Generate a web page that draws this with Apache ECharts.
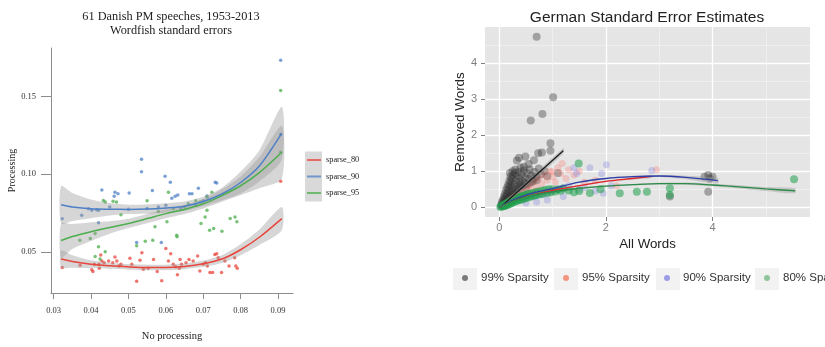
<!DOCTYPE html>
<html><head><meta charset="utf-8">
<script src="https://cdn.jsdelivr.net/npm/echarts@6/dist/echarts.min.js"></script>
<style>html,body{margin:0;padding:0;background:#fff}#c{width:825px;height:347px}</style>
</head><body><div id="c"></div>
<script>
// ===== Left panel: Danish PM speeches =====
const dkXTicks = [0.03, 0.04, 0.05, 0.06, 0.07, 0.08, 0.09];
const dkYTicks = [0.05, 0.10, 0.15];
const dkNames = ['sparse_80', 'sparse_90', 'sparse_95'];

const sparse80Pts = [[0.0323,0.0401],[0.0371,0.0415],[0.0402,0.0386],[0.0405,0.0375],[0.0409,0.0422],[0.0421,0.0422],[0.0422,0.0396],[0.0426,0.0481],[0.0429,0.0443],[0.0435,0.0432],[0.0447,0.0443],[0.0458,0.0432],[0.0464,0.0468],[0.0469,0.0443],[0.0475,0.0411],[0.0480,0.0422],[0.0504,0.0460],[0.0509,0.0422],[0.0522,0.0312],[0.0531,0.0447],[0.0536,0.0496],[0.0540,0.0390],[0.0553,0.0396],[0.0567,0.0453],[0.0577,0.0375],[0.0589,0.0316],[0.0600,0.0523],[0.0607,0.0443],[0.0613,0.0489],[0.0620,0.0422],[0.0626,0.0405],[0.0631,0.0354],[0.0636,0.0396],[0.0638,0.0453],[0.0642,0.0422],[0.0654,0.0432],[0.0662,0.0453],[0.0673,0.0443],[0.0685,0.0475],[0.0691,0.0379],[0.0700,0.0422],[0.0706,0.0432],[0.0711,0.0411],[0.0718,0.0369],[0.0725,0.0369],[0.0731,0.0485],[0.0736,0.0489],[0.0740,0.0464],[0.0749,0.0369],[0.0758,0.0443],[0.0769,0.0411],[0.0784,0.0464],[0.0787,0.0411],[0.0791,0.0396],[0.0907,0.0955]];
const sparse90Pts = [[0.0323,0.0714],[0.0375,0.0736],[0.0393,0.0778],[0.0402,0.0768],[0.0415,0.0772],[0.0420,0.0768],[0.0420,0.0689],[0.0429,0.0899],[0.0450,0.0790],[0.0462,0.0859],[0.0464,0.0885],[0.0472,0.0874],[0.0500,0.0775],[0.0502,0.0880],[0.0522,0.0562],[0.0535,0.1097],[0.0535,0.1016],[0.0550,0.0780],[0.0564,0.0895],[0.0580,0.0790],[0.0588,0.0562],[0.0598,0.0987],[0.0600,0.0800],[0.0612,0.0948],[0.0616,0.0846],[0.0625,0.0859],[0.0632,0.0867],[0.0640,0.0780],[0.0663,0.0874],[0.0670,0.0874],[0.0680,0.0800],[0.0687,0.0910],[0.0700,0.0830],[0.0710,0.0860],[0.0732,0.0948],[0.0736,0.0944],[0.0907,0.1733],[0.0907,0.1256]];
const sparse95Pts = [[0.0370,0.0576],[0.0398,0.0587],[0.0411,0.0619],[0.0411,0.0471],[0.0420,0.0534],[0.0424,0.0455],[0.0433,0.0831],[0.0438,0.0821],[0.0438,0.0502],[0.0459,0.0827],[0.0468,0.0821],[0.0480,0.0740],[0.0522,0.0541],[0.0545,0.0570],[0.0550,0.0830],[0.0565,0.0576],[0.0571,0.0662],[0.0580,0.0760],[0.0603,0.0694],[0.0607,0.0885],[0.0620,0.0780],[0.0629,0.0608],[0.0630,0.0598],[0.0650,0.0790],[0.0660,0.0810],[0.0680,0.0830],[0.0692,0.0821],[0.0694,0.0683],[0.0705,0.0725],[0.0710,0.0853],[0.0710,0.0768],[0.0717,0.0640],[0.0723,0.0885],[0.0728,0.0651],[0.0750,0.0634],[0.0772,0.0715],[0.0785,0.0725],[0.0790,0.0694],[0.0907,0.1538],[0.0907,0.1141]];

const dkCurveX = [0.032,0.035,0.04,0.045,0.05,0.055,0.06,0.065,0.07,0.075,0.08,0.085,0.091];
const sparse80Fit = [0.0456,0.0440,0.0422,0.0412,0.0405,0.0401,0.0401,0.0408,0.0425,0.0455,0.0515,0.0595,0.0715];
const sparse80Se  = [0.0055,0.0040,0.0025,0.0020,0.0018,0.0018,0.0018,0.0018,0.0020,0.0025,0.0035,0.0050,0.0075];
const sparse90Fit = [0.0804,0.0790,0.0778,0.0775,0.0774,0.0776,0.0783,0.0795,0.0825,0.0873,0.0947,0.1053,0.1264];
const sparse90Se  = [0.012,0.009,0.006,0.004,0.003,0.003,0.003,0.003,0.003,0.004,0.007,0.010,0.017];
const sparse95Fit = [0.0574,0.0600,0.0631,0.0658,0.0684,0.0715,0.0747,0.0774,0.0810,0.0863,0.0926,0.1010,0.1141];
const sparse95Se  = [0.011,0.008,0.006,0.004,0.003,0.003,0.003,0.003,0.003,0.004,0.006,0.010,0.017];

// ===== Right panel: German standard errors =====
const deXTicks = [0, 2, 4];
const deYTicks = [0, 1, 2, 3, 4];
const deXMinor = [1, 3, 5];
const deYMinor = [0.5, 1.5, 2.5, 3.5, 4.5];
const deNames = ['99% Sparsity', '95% Sparsity', '90% Sparsity', '80% Sparsity'];

const sp99Pts = [[0.03,0.04],[0.05,0.09],[0.06,0.05],[0.08,0.14],[0.09,0.08],[0.1,0.2],[0.11,0.11],[0.12,0.27],[0.13,0.15],[0.14,0.34],[0.15,0.2],[0.16,0.42],[0.17,0.25],[0.18,0.5],[0.19,0.3],[0.2,0.6],[0.21,0.36],[0.22,0.7],[0.23,0.45],[0.24,0.8],[0.25,0.55],[0.26,0.9],[0.27,0.4],[0.28,0.65],[0.29,0.95],[0.3,0.5],[0.31,0.75],[0.33,0.88],[0.34,0.58],[0.36,0.98],[0.37,0.7],[0.39,0.8],[0.4,0.62],[0.42,0.92],[0.44,0.72],[0.46,1.02],[0.48,0.82],[0.5,0.66],[0.52,0.95],[0.55,0.78],[0.57,1.05],[0.6,0.88],[0.63,0.72],[0.66,0.98],[0.7,0.85],[0.74,1.08],[0.78,0.92],[0.85,1.0],[0.9,0.86],[0.33,1.3],[0.37,1.38],[0.46,1.13],[0.49,1.41],[0.55,1.2],[0.65,1.31],[0.73,1.5],[0.8,1.52],[0.96,1.57],[0.96,1.78],[0.59,2.41],[0.81,2.59],[1.01,3.06],[0.70,4.74],[1.1,0.95],[3.2,0.3],[3.92,0.9],[3.95,0.8],[3.92,0.43],[4.0,0.85],[3.85,0.85],[0.05,0.15],[0.07,0.22],[0.09,0.3],[0.11,0.38],[0.13,0.48],[0.15,0.56],[0.17,0.64],[0.19,0.74],[0.21,0.84],[0.12,0.06],[0.16,0.12],[0.2,0.16],[0.24,0.3],[0.28,0.35],[0.32,0.42],[0.36,0.5],[0.4,0.55],[0.45,0.6],[0.5,0.55],[0.55,0.65],[0.6,0.7],[0.65,0.8],[0.7,0.75],[0.25,1.0],[0.3,1.05],[0.4,1.1],[0.2,0.95]];
const sp95Pts = [[0.1,0.09],[0.15,0.14],[0.2,0.2],[0.25,0.25],[0.3,0.3],[0.35,0.33],[0.4,0.38],[0.45,0.42],[0.5,0.45],[0.55,0.6],[0.6,0.5],[0.65,0.7],[0.7,0.55],[0.75,0.8],[0.8,0.65],[0.85,0.9],[0.9,0.75],[0.95,1.0],[0.99,0.99],[1.0,0.85],[1.05,0.7],[1.1,1.1],[1.15,0.94],[1.18,1.22],[1.25,0.8],[1.3,1.04],[1.4,0.9],[1.5,1.0],[1.6,0.7],[1.8,0.75],[2.2,0.6],[2.95,1.04]];
const sp90Pts = [[0.2,0.15],[0.3,0.2],[0.4,0.25],[0.5,0.28],[0.5,0.12],[0.6,0.3],[0.7,0.32],[0.7,0.15],[0.8,0.35],[0.9,0.4],[0.9,0.2],[1.0,0.45],[1.1,0.5],[1.2,0.55],[1.2,0.3],[1.3,0.6],[1.4,1.1],[1.45,0.94],[1.5,0.5],[1.6,0.55],[1.7,1.1],[1.8,0.45],[1.92,0.94],[1.95,0.39],[2.01,1.18],[2.1,0.6],[2.86,1.02]];
const sp80Pts = [[0.02,0.01],[0.04,0.04],[0.05,0.02],[0.07,0.06],[0.08,0.03],[0.1,0.08],[0.1,0.04],[0.12,0.1],[0.13,0.06],[0.15,0.12],[0.16,0.07],[0.18,0.15],[0.2,0.09],[0.2,0.17],[0.23,0.12],[0.24,0.2],[0.26,0.14],[0.28,0.22],[0.3,0.16],[0.32,0.25],[0.34,0.18],[0.36,0.28],[0.38,0.2],[0.4,0.3],[0.42,0.22],[0.44,0.32],[0.46,0.24],[0.48,0.34],[0.5,0.26],[0.52,0.36],[0.55,0.28],[0.57,0.38],[0.6,0.3],[0.62,0.4],[0.65,0.32],[0.68,0.42],[0.7,0.34],[0.73,0.44],[0.76,0.36],[0.8,0.46],[0.82,0.38],[0.86,0.48],[0.9,0.4],[0.93,0.5],[0.97,0.42],[1.0,0.5],[1.05,0.44],[1.1,0.5],[1.15,0.46],[1.2,0.52],[1.3,0.47],[1.4,0.42],[1.49,1.22],[1.5,0.45],[1.7,0.4],[1.9,0.5],[2.26,0.39],[2.58,0.43],[2.77,0.43],[3.2,0.53],[3.2,0.34],[5.53,0.78]];

const sp99FitX = [0.02, 1.2];
const sp99Fit  = [0.0, 1.57];
const sp99Se   = [0.04, 0.08];
const sp95FitX = [0,0.25,0.5,0.75,1.0,1.5,2.0,2.5,2.87];
const sp95Fit  = [0,0.18,0.3,0.39,0.47,0.6,0.72,0.8,0.86];
const sp95Se   = [0.02,0.02,0.02,0.02,0.02,0.02,0.025,0.03,0.04];
const sp90FitX = [0,0.25,0.5,0.75,1.0,1.5,2.0,2.5,3.0,3.5,4.1];
const sp90Fit  = [0,0.2,0.34,0.44,0.52,0.7,0.8,0.85,0.87,0.83,0.74];
const sp90Se   = [0.02,0.02,0.02,0.02,0.02,0.02,0.02,0.025,0.03,0.05,0.08];
const sp80FitX = [0,0.25,0.5,0.75,1.0,1.5,2.0,2.5,3.0,3.5,4.0,4.5,5.0,5.55];
const sp80Fit  = [0,0.17,0.29,0.37,0.43,0.53,0.59,0.63,0.66,0.66,0.62,0.57,0.51,0.46];
const sp80Se   = [0.02,0.02,0.02,0.02,0.02,0.02,0.02,0.02,0.025,0.03,0.035,0.045,0.055,0.07];

// ===== build =====
const dkColors = ['#e8453c', '#4f80c6', '#4cae4c'];
const deColors = ['#333333', '#f8766d', '#7777dd', '#1e9e4a'];
const deOpacity = [0.38, 0.3, 0.3, 0.55];
const deLineColors = ['#1a1a1a', '#e3262b', '#2f3fa8', '#2a8a48'];
const serif = 'Liberation Serif';
const sans = 'Liberation Sans';

function bandSeries(xs, fit, se, axis) {
  return {
    type: 'custom', xAxisIndex: axis, yAxisIndex: axis, silent: true, z: 3, clip: true,
    data: [[xs[0], fit[0]]],
    renderItem: function (params, api) {
      const upper = xs.map((x, i) => api.coord([x, fit[i] + se[i]]));
      const lower = xs.map((x, i) => api.coord([x, fit[i] - se[i]])).reverse();
      return { type: 'polygon', shape: { points: upper.concat(lower), smooth: 0.25 },
        style: { fill: '#999999', opacity: 0.4 } };
    }
  };
}
function fitSeries(name, xs, fit, color, axis, w) {
  return { name: name, type: 'line', xAxisIndex: axis, yAxisIndex: axis, symbol: 'none', smooth: 0.3, silent: true,
    data: xs.map((x, i) => [x, fit[i]]), lineStyle: { color: color, width: w }, z: 4 };
}

const series = [];
[sparse80Pts, sparse90Pts, sparse95Pts].forEach((pts, i) => {
  series.push({ name: dkNames[i], type: 'scatter', xAxisIndex: 0, yAxisIndex: 0, data: pts, symbolSize: 3.5,
    itemStyle: { color: dkColors[i], opacity: 0.75 }, z: 2 });
});
[[sparse80Fit, sparse80Se], [sparse90Fit, sparse90Se], [sparse95Fit, sparse95Se]].forEach((f) => {
  series.push(bandSeries(dkCurveX, f[0], f[1], 0));
});
[sparse80Fit, sparse90Fit, sparse95Fit].forEach((f, i) => {
  series.push(fitSeries(dkNames[i], dkCurveX, f, dkColors[i], 0, 1.5));
});

[sp99Pts, sp95Pts, sp90Pts, sp80Pts].forEach((pts, i) => {
  series.push({ name: deNames[i], type: 'scatter', xAxisIndex: 1, yAxisIndex: 1, data: pts, symbolSize: (i === 0 || i === 3) ? 8 : 7,
    itemStyle: { color: deColors[i], opacity: deOpacity[i] }, z: 2 });
});
const deFits = [[sp99FitX, sp99Fit, sp99Se], [sp95FitX, sp95Fit, sp95Se], [sp90FitX, sp90Fit, sp90Se], [sp80FitX, sp80Fit, sp80Se]];
deFits.forEach((f) => { series.push(bandSeries(f[0], f[1], f[2], 1)); });
deFits.forEach((f, i) => { series.push(fitSeries(deNames[i], f[0], f[1], deLineColors[i], 1, 1.3)); });

const deLegendLeft = [462, 563, 664, 764];
const deKeyBox = [453, 554, 656, 755];
const deLegendDot = ['#7a7a7a', '#f4957f', '#9c9ce6', '#8fc59a'];
const legends = [{
  data: dkNames, orient: 'vertical', left: 307, top: 155, icon: 'rect', itemWidth: 14, itemHeight: 2, itemGap: 6.5, padding: 0,
  selectedMode: false, textStyle: { fontFamily: serif, fontSize: 8.3, color: '#222', lineHeight: 10 }
}];
deNames.forEach((n, i) => {
  legends.push({ data: [{ name: n, itemStyle: { color: deLegendDot[i], opacity: 1 } }], left: deLegendLeft[i], top: 272, icon: 'circle',
    itemWidth: 22, itemHeight: 6, padding: 0, selectedMode: false,
    textStyle: { fontFamily: sans, fontSize: 11.5, color: '#333' } });
});

const graphics = [{ type: 'rect', shape: { x: 305, y: 151.5, width: 17, height: 50 }, style: { fill: '#d9d9d9' }, z: -1 }];
deKeyBox.forEach(l => {
  graphics.push({ type: 'rect', shape: { x: l, y: 268, width: 24, height: 22 }, style: { fill: '#f2f2f2' }, z: -1 });
});

const chart = echarts.init(document.getElementById('c'), null, { renderer: 'canvas' });
chart.setOption({
  animation: false,
  backgroundColor: '#ffffff',
  title: [
    { text: '61 Danish PM speeches, 1953-2013\nWordfish standard errors', left: 171, top: 10, textAlign: 'center', padding: 0,
      textStyle: { fontFamily: serif, fontSize: 12.3, fontWeight: 'normal', color: '#222', lineHeight: 14 } },
    { text: 'German Standard Error Estimates', left: 647, top: 10, textAlign: 'center', padding: 0,
      textStyle: { fontFamily: sans, fontSize: 15.5, fontWeight: 'normal', color: '#222' } }
  ],
  legend: legends,
  graphic: graphics,
  grid: [
    { left: 51, top: 48, width: 242, height: 247, containLabel: false },
    { left: 485, top: 27, width: 325, height: 190, show: true, backgroundColor: '#e5e5e5', borderWidth: 0, containLabel: false }
  ],
  xAxis: [
    { gridIndex: 0, type: 'value', min: 0.0293, max: 0.094,
      axisLine: { show: true, onZero: false, lineStyle: { color: '#8c8c8c', width: 1 } },
      axisTick: { show: true, customValues: dkXTicks, length: 6, lineStyle: { color: '#8c8c8c' } },
      axisLabel: { customValues: dkXTicks, formatter: v => v.toFixed(2), fontFamily: serif, fontSize: 8.5, color: '#333', margin: 13 },
      splitLine: { show: false },
      name: 'No processing', nameLocation: 'middle', nameGap: 38,
      nameTextStyle: { fontFamily: serif, fontSize: 10.5, color: '#222' } },
    { gridIndex: 1, type: 'value', min: -0.268, max: 5.829,
      axisLine: { show: false, onZero: false },
      axisTick: { show: true, customValues: deXTicks, length: 4, lineStyle: { color: '#7f7f7f' } },
      axisLabel: { customValues: deXTicks, fontFamily: sans, fontSize: 11, color: '#7f7f7f', margin: 5 },
      splitLine: { show: true, lineStyle: { color: '#ffffff', width: 1.3 } },
      name: 'All Words', nameLocation: 'middle', nameGap: 18,
      nameTextStyle: { fontFamily: sans, fontSize: 13.3, color: '#222' } },
    { gridIndex: 1, type: 'value', min: -0.268, max: 5.829, position: 'top',
      axisLine: { show: false, onZero: false },
      axisTick: { show: false, customValues: deXMinor },
      axisLabel: { show: false, customValues: deXMinor },
      splitLine: { show: true, lineStyle: { color: '#f4f4f4', width: 0.7 } } }
  ],
  yAxis: [
    { gridIndex: 0, type: 'value', min: 0.0237, max: 0.1811,
      axisLine: { show: true, onZero: false, lineStyle: { color: '#8c8c8c', width: 1 } },
      axisTick: { show: true, customValues: dkYTicks, length: 10, lineStyle: { color: '#8c8c8c' } },
      axisLabel: { customValues: dkYTicks, formatter: v => v.toFixed(2), fontFamily: serif, fontSize: 8.5, color: '#333', margin: 15 },
      splitLine: { show: false },
      name: 'Processing', nameLocation: 'middle', nameGap: 32,
      nameTextStyle: { fontFamily: serif, fontSize: 10, color: '#222' } },
    { gridIndex: 1, type: 'value', min: -0.269, max: 5.008,
      axisLine: { show: false, onZero: false },
      axisTick: { show: true, customValues: deYTicks, length: 4, lineStyle: { color: '#7f7f7f' } },
      axisLabel: { customValues: deYTicks, fontFamily: sans, fontSize: 11, color: '#7f7f7f', margin: 8 },
      splitLine: { show: true, lineStyle: { color: '#ffffff', width: 1.3 } },
      name: 'Removed Words', nameLocation: 'middle', nameGap: 16,
      nameTextStyle: { fontFamily: sans, fontSize: 13.4, color: '#222' } },
    { gridIndex: 1, type: 'value', min: -0.269, max: 5.008, position: 'right',
      axisLine: { show: false, onZero: false },
      axisTick: { show: false, customValues: deYMinor },
      axisLabel: { show: false, customValues: deYMinor },
      splitLine: { show: true, lineStyle: { color: '#f4f4f4', width: 0.7 } } }
  ],
  series: series
});
</script>
</body></html>
